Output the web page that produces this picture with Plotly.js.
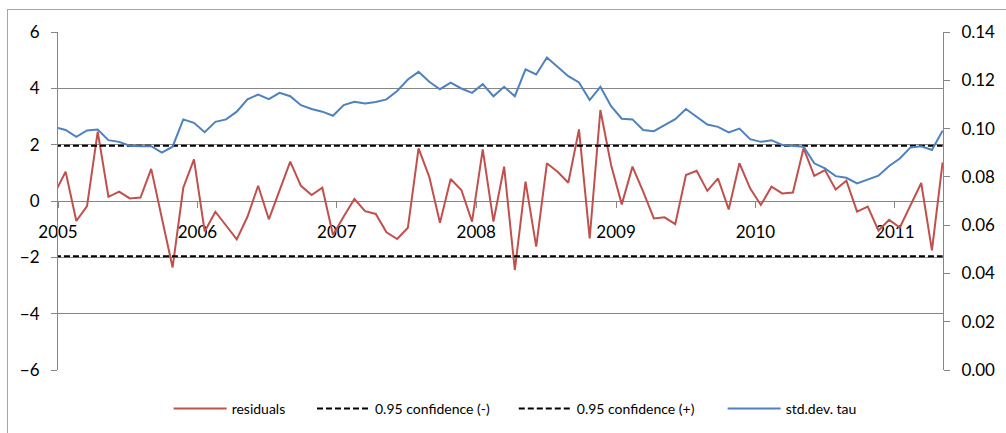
<!DOCTYPE html>
<html>
<head>
<meta charset="utf-8">
<script src="https://cdn.plot.ly/plotly-3.0.1.min.js"></script>
<style>
  html, body { margin: 0; padding: 0; background: #ffffff; }
  #wrap { position: relative; width: 1006px; height: 433px; overflow: hidden; }
  #frame { position: absolute; left: 7px; top: 9px; width: 1010px; height: 440px;
           border-top: 1px solid #a6a6a6; border-left: 1px solid #a6a6a6; }
  #chart { position: absolute; left: 0; top: 0; width: 1006px; height: 433px; }
</style>
</head>
<body>
<div id="wrap">
  <div id="frame"></div>
  <div id="chart"></div>
</div>
<script>
// 4-weekly observation dates
const dates = [
  '2004-12-24','2005-01-21','2005-02-18','2005-03-18','2005-04-15','2005-05-13','2005-06-10','2005-07-08',
  '2005-08-05','2005-09-02','2005-09-30','2005-10-28','2005-11-25','2005-12-23','2006-01-20','2006-02-17',
  '2006-03-17','2006-04-14','2006-05-12','2006-06-09','2006-07-07','2006-08-04','2006-09-01','2006-09-29',
  '2006-10-27','2006-11-24','2006-12-22','2007-01-19','2007-02-16','2007-03-16','2007-04-13','2007-05-11',
  '2007-06-08','2007-07-06','2007-08-03','2007-08-31','2007-09-28','2007-10-26','2007-11-23','2007-12-21',
  '2008-01-18','2008-02-15','2008-03-14','2008-04-11','2008-05-09','2008-06-06','2008-07-04','2008-08-01',
  '2008-08-29','2008-09-26','2008-10-24','2008-11-21','2008-12-19','2009-01-16','2009-02-13','2009-03-13',
  '2009-04-10','2009-05-08','2009-06-05','2009-07-03','2009-07-31','2009-08-28','2009-09-25','2009-10-23',
  '2009-11-20','2009-12-18','2010-01-15','2010-02-12','2010-03-12','2010-04-09','2010-05-07','2010-06-04',
  '2010-07-02','2010-07-30','2010-08-27','2010-09-24','2010-10-22','2010-11-19','2010-12-17','2011-01-14',
  '2011-02-11','2011-03-11','2011-04-08','2011-05-06'
];

// standardized residuals (left axis)
const residuals = [
  0.30, 1.04, -0.71, -0.18, 2.46, 0.15, 0.33, 0.09, 0.12, 1.14, -0.61, -2.36, 0.47, 1.48,
  -1.08, -0.38, -0.87, -1.36, -0.56, 0.54, -0.65, 0.37, 1.40, 0.54, 0.21, 0.47, -1.21,
  -0.55, 0.07, -0.36, -0.46, -1.11, -1.35, -0.95, 1.87, 0.86, -0.77, 0.78, 0.39, -0.73,
  1.83, -0.73, 1.22, -2.45, 0.69, -1.62, 1.34, 1.04, 0.65, 2.54, -1.33, 3.23, 1.28,
  -0.12, 1.22, 0.33, -0.62, -0.58, -0.82, 0.92, 1.07, 0.36, 0.80, -0.30, 1.34, 0.45,
  -0.14, 0.51, 0.27, 0.30, 1.87, 0.89, 1.10, 0.41, 0.72, -0.38, -0.20, -1.05, -0.67,
  -0.94, -0.17, 0.64, -1.75, 1.37
];

// std.dev. tau (right axis)
const stdDevTau = [
  0.1006, 0.0994, 0.0966, 0.0992, 0.0996, 0.0952, 0.0945, 0.0929, 0.0927, 0.0927, 0.0900, 0.0925, 0.1038, 0.1024,
  0.0985, 0.1028, 0.1038, 0.1070, 0.1121, 0.1141, 0.1122, 0.1148, 0.1134, 0.1097, 0.1081, 0.1070, 0.1053,
  0.1097, 0.1111, 0.1104, 0.1110, 0.1121, 0.1156, 0.1203, 0.1235, 0.1194, 0.1163, 0.1190, 0.1166, 0.1148,
  0.1184, 0.1134, 0.1173, 0.1134, 0.1245, 0.1224, 0.1294, 0.1256, 0.1217, 0.1191, 0.1118, 0.1173, 0.1093,
  0.1041, 0.1038, 0.0994, 0.0989, 0.1014, 0.1039, 0.1081, 0.1049, 0.1017, 0.1007, 0.0984, 0.1000, 0.0956,
  0.0945, 0.0952, 0.0932, 0.0927, 0.0925, 0.0856, 0.0835, 0.0803, 0.0796, 0.0773, 0.0789, 0.0805, 0.0845,
  0.0876, 0.0922, 0.0927, 0.0911, 0.0991
];

// 95% confidence bounds
const confDates = ['2004-12-24', '2011-05-06'];
const confLower = [-1.96, -1.96];
const confUpper = [1.96, 1.96];

// axis ticks
const yearTicks = ['2005-01-01','2006-01-01','2007-01-01','2008-01-01','2009-01-01','2010-01-01','2011-01-01'];
const yearLabels = ['2005','2006','2007','2008','2009','2010','2011'];
const xRange = ['2005-01-01', '2011-05-07'];

const RED = '#C0504D', BLUE = '#4F81BD', GRID = '#868686';
const FONT = 'Lato, "Open Sans", "Liberation Sans", sans-serif';

const traces = [
  { x: dates, y: residuals, name: 'residuals', type: 'scatter', mode: 'lines',
    line: { color: RED, width: 2 }, legend: 'legend', yaxis: 'y' },
  { x: confDates, y: confLower, name: '0.95 confidence (-)', type: 'scatter', mode: 'lines',
    line: { color: '#000000', width: 2, dash: '6px,3px' }, legend: 'legend2', yaxis: 'y' },
  { x: confDates, y: confUpper, name: '0.95 confidence (+)', type: 'scatter', mode: 'lines',
    line: { color: '#000000', width: 2, dash: '6px,3px' }, legend: 'legend3', yaxis: 'y' },
  { x: dates, y: stdDevTau, name: 'std.dev. tau', type: 'scatter', mode: 'lines',
    line: { color: BLUE, width: 2 }, legend: 'legend4', yaxis: 'y2' }
];

function leg(x) {
  return { x: x, xanchor: 'left', y: -0.1154, yanchor: 'middle', orientation: 'h',
           font: { family: FONT, size: 14, color: '#000' }, bgcolor: 'rgba(0,0,0,0)',
           itemwidth: 53, tracegroupgap: 0 };
}

const layout = {
  width: 1006, height: 433,
  margin: { l: 58, r: 63, t: 32, b: 63, autoexpand: false },
  paper_bgcolor: 'rgba(0,0,0,0)', plot_bgcolor: 'rgba(0,0,0,0)',
  font: { family: FONT, size: 17, color: '#000' },
  showlegend: true,
  xaxis: {
    type: 'date', range: xRange, anchor: 'free', position: 0.5,
    tickmode: 'array', tickvals: yearTicks, ticktext: yearLabels,
    ticks: 'outside', ticklen: 6, tickcolor: GRID, tickwidth: 1,
    ticklabelstandoff: 10,
    showline: true, linecolor: GRID, linewidth: 1,
    showgrid: false, zeroline: false, layer: 'below traces',
    tickfont: { family: FONT, size: 17, color: '#000' }
  },
  yaxis: {
    range: [-6, 6], dtick: 2, tick0: 0,
    ticks: 'outside', ticklen: 6, tickcolor: GRID,
    showline: true, linecolor: GRID, linewidth: 1,
    showgrid: true, gridcolor: GRID, gridwidth: 1, zeroline: false,
    ticklabelstandoff: 8,
    tickfont: { family: FONT, size: 17, color: '#000' }
  },
  yaxis2: {
    overlaying: 'y', side: 'right', anchor: 'x',
    range: [0, 0.14], dtick: 0.02, tick0: 0, tickformat: '.2f',
    ticks: 'outside', ticklen: 6, tickcolor: GRID,
    showline: true, linecolor: GRID, linewidth: 1,
    showgrid: false, zeroline: false,
    ticklabelstandoff: 8,
    tickfont: { family: FONT, size: 17, color: '#000' }
  },
  legend: leg(0.125),
  legend2: leg(0.287),
  legend3: leg(0.515),
  legend4: leg(0.751)
};

Plotly.newPlot('chart', traces, layout, { staticPlot: true, displayModeBar: false });
</script>
</body>
</html>
